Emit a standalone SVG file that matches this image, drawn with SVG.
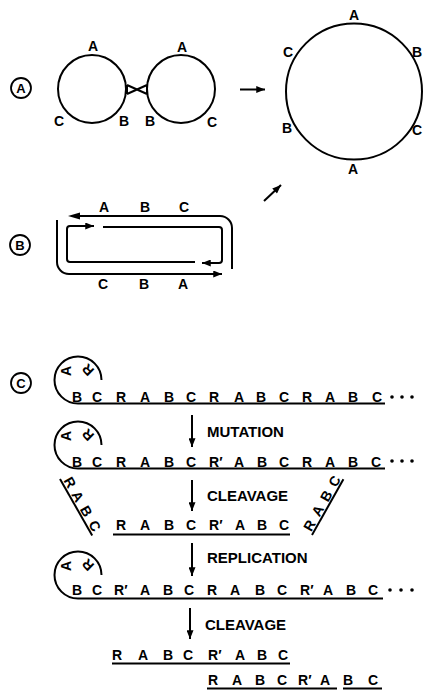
<svg xmlns="http://www.w3.org/2000/svg" xmlns:xlink="http://www.w3.org/1999/xlink" width="424" height="690" viewBox="0 0 424 690">
  <style>
    .ln { stroke: #000; stroke-width: 2; fill: none; }
    .thin { stroke: #000; stroke-width: 1.8; fill: none; }
    .t { font-family: "Liberation Sans", Arial, sans-serif; font-weight: bold; font-size: 14px; text-anchor: middle; fill: #000; }
    .lbl { font-family: "Liberation Sans", Arial, sans-serif; font-weight: bold; font-size: 15px; fill: #000; }
    .tag { font-family: "Liberation Sans", Arial, sans-serif; font-weight: bold; font-size: 13px; text-anchor: middle; fill: #000; }
    .dot { fill: #000; }
  </style>
  <defs>
    <marker id="ah" viewBox="0 0 10 8" refX="10" refY="4" markerWidth="10" markerHeight="7" markerUnits="userSpaceOnUse" orient="auto">
      <path d="M0,0 L10,4 L0,8 z" fill="#000"/>
    </marker>
    <!-- letters written inside the looped end of the strand -->
    <g id="loopLetters">
      <text class="t" transform="translate(66,371) rotate(-90)" x="0" y="5">A</text>
      <text class="t" transform="translate(88,370) rotate(-135)" x="0" y="5">R</text>
    </g>
  </defs>
  <rect width="424" height="690" fill="#fff"/>

  <!-- panel tags -->
  <g id="tagA"><circle class="thin" cx="21" cy="88" r="10"/><text class="tag" x="21" y="92.7">A</text></g>
  <g id="tagB"><circle class="thin" cx="20" cy="245" r="10"/><text class="tag" x="20" y="249.7">B</text></g>
  <g id="tagC"><circle class="thin" cx="21" cy="383" r="10"/><text class="tag" x="21" y="387.7">C</text></g>

  <!-- A: two linked circles -->
  <g id="circleLeft">
    <circle class="ln" cx="92" cy="89" r="34"/>
    <text class="t" x="93" y="51">A</text>
    <text class="t" x="59" y="126">C</text>
    <text class="t" x="124" y="126">B</text>
  </g>
  <g id="circleRight">
    <circle class="ln" cx="181" cy="89" r="34"/>
    <text class="t" x="182" y="52">A</text>
    <text class="t" x="150" y="126">B</text>
    <text class="t" x="212" y="127">C</text>
  </g>
  <g id="crossover">
    <path class="ln" d="M127,85 L147,94 M127,94 L147,85 M127,85 V94 M147,85 V94"/>
  </g>

  <!-- A: fused large circle -->
  <g id="circleLarge">
    <circle class="ln" cx="354" cy="91.5" r="68"/>
    <text class="t" x="354" y="20">A</text>
    <text class="t" x="288" y="57">C</text>
    <text class="t" x="417" y="57">B</text>
    <text class="t" x="287" y="133">B</text>
    <text class="t" x="417" y="135">C</text>
    <text class="t" x="353" y="174">A</text>
  </g>

  <!-- B: strands in a rounded loop -->
  <g id="loopB">
    <path class="ln" d="M72,216 H220 A12,12 0 0 1 232,228 V269"/>
    <path d="M68,216 L80,212.5 L80,219.5 z" fill="#000"/>
    <path class="ln" d="M57,220 V262 A12,12 0 0 0 69,274 H222" marker-end="url(#ah)"/>
    <path class="ln" d="M195,262 H70 A3,3 0 0 1 67,259 V229 A3,3 0 0 1 70,226 H94" marker-end="url(#ah)"/>
    <path class="ln" d="M103,227 H219 A3,3 0 0 1 222,230 V260 A3,3 0 0 1 219,263 H202" marker-end="url(#ah)"/>
    <text class="t" x="104" y="212">A</text>
    <text class="t" x="145" y="212">B</text>
    <text class="t" x="184" y="212">C</text>
    <text class="t" x="103" y="289">C</text>
    <text class="t" x="144" y="289">B</text>
    <text class="t" x="183" y="289">A</text>
  </g>

  <!-- C: rolling-circle strands -->
  <g id="row1">
    <path class="ln" d="M101.5,380 A23.5,23.5 0 1 0 78,403.5 H385"/>
    <use xlink:href="#loopLetters"/>
    <text class="t" y="402" x="77 87 97 109 121 133 145 157 169 180 191 202 214 226 239 250 261 272 284 295 307 318 330 341 353 365 377">B C R A B C R A B C R A B C</text>
    <circle class="dot" cx="392" cy="397" r="1.8"/><circle class="dot" cx="402" cy="397" r="1.8"/><circle class="dot" cx="412" cy="397" r="1.8"/>
  </g>
  <g id="row2">
    <path class="ln" d="M101.5,445 A23.5,23.5 0 1 0 78,468.5 H385"/>
    <use xlink:href="#loopLetters" transform="translate(0,65)"/>
    <text class="t" y="467" x="77 87 97 109 121 133 145 157 169 180 191 202 214 221 227 239 250 262 273 284 295 307 318 330 341 353 365 376">B C R A B C R′ A B C R A B C</text>
    <circle class="dot" cx="392" cy="461" r="1.8"/><circle class="dot" cx="402" cy="461" r="1.8"/><circle class="dot" cx="412" cy="461" r="1.8"/>
  </g>
  <g id="row3">
    <path class="ln" d="M113,534.5 H290"/>
    <text class="t" y="530" x="121 133 145 157 169 180 191 202 214 221 227 240 251 262 273 284">R A B C R′ A B C</text>
  </g>
  <g id="fragLeft" transform="translate(60,479) rotate(60.3)">
    <path class="ln" d="M0,0 H65"/>
    <text class="t" y="-2" x="8 16 24 32 41 49 58">R A B C</text>
  </g>
  <g id="fragRight" transform="translate(312,535) rotate(-60.6)">
    <path class="ln" d="M0,0 H64"/>
    <text class="t" y="-2" x="7 15 24 32 41 50 58">R A B C</text>
  </g>
  <g id="row4">
    <path class="ln" d="M101.5,575 A23.5,23.5 0 1 0 78,598.5 H383"/>
    <use xlink:href="#loopLetters" transform="translate(0,195)"/>
    <text class="t" y="595" x="77 87 97 108 119 126 132 145 156 168 178 189 200 212 223 235 247 260 271 282 293 305 312 317 328 340 351 362 373">B C R′ A B C R A B C R′ A B C</text>
    <circle class="dot" cx="390" cy="590" r="1.8"/><circle class="dot" cx="401" cy="590" r="1.8"/><circle class="dot" cx="412" cy="590" r="1.8"/>
  </g>
  <g id="row5">
    <path class="ln" d="M112,663.5 H290"/>
    <text class="t" y="660" x="117 130 143 155 168 178 188 200 213 220 226 240 251 262 272 283">R A B C R′ A B C</text>
  </g>
  <g id="row6">
    <path class="ln" d="M207,688.5 H337 M343,688.5 H382"/>
    <text class="t" y="685" x="213 225 237 248 260 271 282 292 303 310 314 325 336 348 360 373">R A B C R′ A B C</text>
  </g>

  <!-- step labels -->
  <g id="stepLabels">
    <text class="lbl" x="207" y="437">MUTATION</text>
    <text class="lbl" x="207" y="501">CLEAVAGE</text>
    <text class="lbl" x="207" y="563">REPLICATION</text>
    <text class="lbl" x="205" y="630">CLEAVAGE</text>
  </g>

  <!-- connectors -->
  <g id="connectors">
    <path class="ln" d="M240,89.5 H265" marker-end="url(#ah)"/>
    <path class="ln" d="M264,201 L281,185" marker-end="url(#ah)"/>
    <path class="ln" d="M192,415 V447" marker-end="url(#ah)"/>
    <path class="ln" d="M192,480 V511" marker-end="url(#ah)"/>
    <path class="ln" d="M192,543 V576" marker-end="url(#ah)"/>
    <path class="ln" d="M190,608 V639" marker-end="url(#ah)"/>
  </g>
</svg>
